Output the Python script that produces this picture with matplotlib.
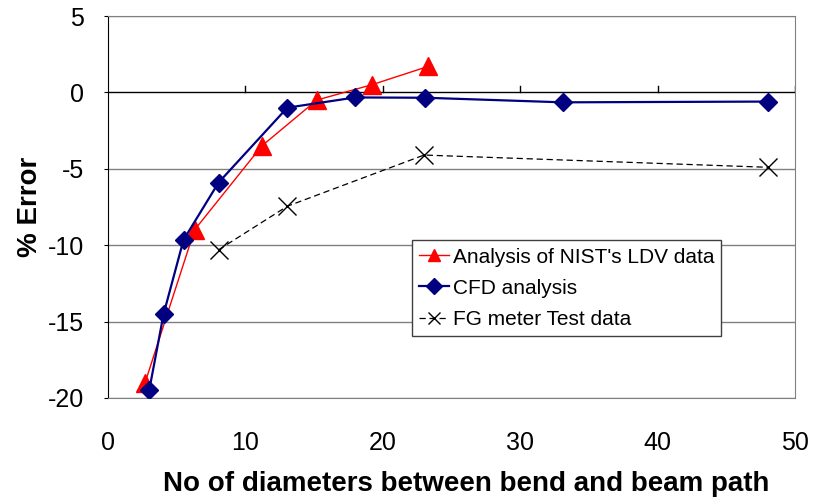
import matplotlib
matplotlib.use("Agg")
import matplotlib.pyplot as plt

plt.rcParams['font.family'] = ['Liberation Sans', 'DejaVu Sans']
plt.rcParams['axes.unicode_minus'] = False

# Analysis of NIST's LDV data
nist_x = [2.7, 6.3, 11.2, 15.2, 19.2, 23.3]
nist_y = [-19.0, -9.0, -3.5, -0.5, 0.5, 1.7]

# CFD analysis
cfd_x = [3.0, 4.05, 5.5, 8.05, 13.05, 18.0, 23.1, 33.1, 48.0]
cfd_y = [-19.5, -14.5, -9.65, -5.9, -1.0, -0.33, -0.35, -0.65, -0.6]

# FG meter test data
fg_x = [8.05, 13.05, 23.0, 48.0]
fg_y = [-10.3, -7.45, -4.1, -4.9]

x_ticks = [0, 10, 20, 30, 40, 50]
y_ticks = [5, 0, -5, -10, -15, -20]

fig = plt.figure(figsize=(8.13, 4.97), dpi=100)
ax = fig.add_axes([0.1328, 0.1992, 0.8451, 0.7686])

# horizontal gridlines, the zero line is the x axis
for y in y_ticks:
    if y == 0:
        ax.axhline(y, color='black', lw=1.0, zorder=1)
    else:
        ax.axhline(y, color='#808080', lw=1.0, zorder=1)

ax.plot(nist_x, nist_y, color='red', lw=1.0, marker='^', markersize=13,
        markeredgecolor='red', label="Analysis of NIST's LDV data", zorder=3)
ax.plot(cfd_x, cfd_y, color='#000080', lw=1.6, marker='D', markersize=9,
        markeredgecolor='#000080', label='CFD analysis', zorder=4)
ax.plot(fg_x, fg_y, color='black', lw=0.9, ls=(0, (5, 3)), marker='x', markersize=13,
        markeredgewidth=1.0, label='FG meter Test data', zorder=2)

# tick marks on the zero line
for x in x_ticks[1:]:
    ax.plot([x, x], [0, 0.45], color='black', lw=1.0, zorder=1)

ax.set_xlim(0, 50)
ax.set_ylim(-20, 5)
ax.set_xticks(x_ticks)
ax.set_yticks(y_ticks)
ax.tick_params(axis='x', length=0, labelsize=18, pad=24)
ax.tick_params(axis='y', length=3, labelsize=18, pad=14)

for side in ['top', 'right', 'bottom']:
    ax.spines[side].set_color('#808080')
ax.spines['left'].set_color('black')

ax.set_xlabel('No of diameters between bend and beam path', fontsize=20,
              fontweight='bold')
ax.xaxis.set_label_coords(0.521, -0.19)
ax.set_ylabel('% Error', fontsize=20, fontweight='bold', labelpad=4)

leg = ax.legend(loc='lower left', bbox_to_anchor=(0.4425, 0.162), fontsize=15,
                frameon=True, fancybox=False, edgecolor='#404040', framealpha=1,
                handlelength=1.45, handletextpad=0.15, borderpad=0.35, labelspacing=0.58,
                borderaxespad=0)
leg.get_frame().set_linewidth(1.0)
for h in leg.legend_handles:
    h.set_markersize(8)

fig.savefig('out.png', dpi=100)
